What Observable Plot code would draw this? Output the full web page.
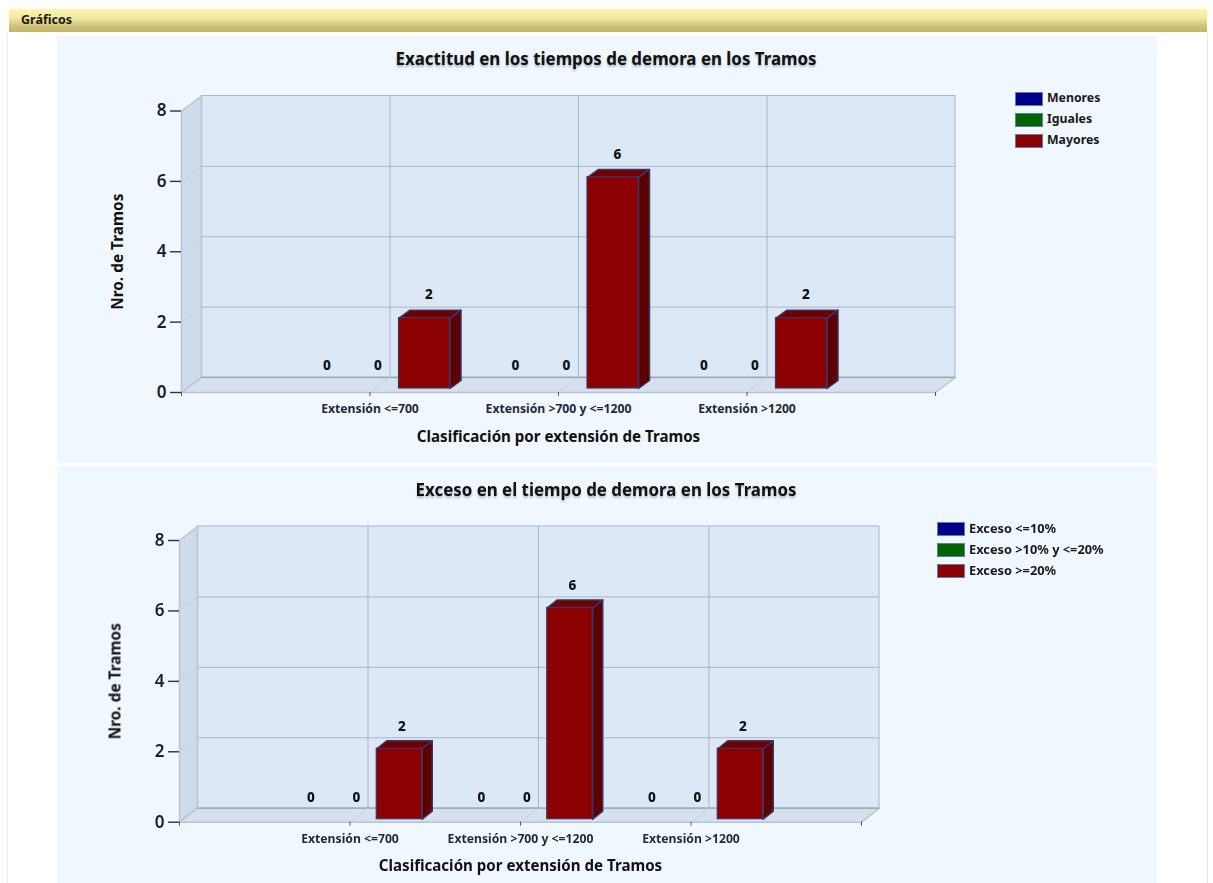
<!DOCTYPE html>
<html lang="es">
<head>
<meta charset="utf-8">
<script src="https://cdn.jsdelivr.net/npm/d3@7"></script>
<script src="https://cdn.jsdelivr.net/npm/@observablehq/plot@0.6"></script>
<style>
html,body{margin:0;padding:0;background:#fff;width:1213px;height:883px;overflow:hidden;font-family:"Noto Sans",sans-serif;color:#111}
#page{position:relative;width:1213px;height:883px;overflow:hidden;filter:blur(0.45px)}
.abs{position:absolute}
.bar{left:9px;top:9px;width:1198px;height:23px;background:linear-gradient(#fdf5ae 0%,#f5eba3 35%,#c9bd74 80%,#c2b56b 100%)}
.hd{left:21px;top:11px;font:700 12.5px "Noto Sans",sans-serif;color:#1a1a10}
.panel{background:#f0f7ff;left:57px;width:1100px}
.title{font:700 16.9px "Noto Sans",sans-serif;white-space:nowrap;transform:translateX(-50%);text-shadow:0 2px 2px rgba(70,70,70,.35);color:#111}
.sw{width:26px;height:12px;border:1px solid #5f7ea6}
.lg{font-family:"Noto Sans",sans-serif;font-weight:700;white-space:nowrap;color:#1a1a1a}
svg{position:absolute;left:0;background:transparent!important;overflow:visible}
</style>
</head>
<body>
<div id="page">
  <div class="abs" style="left:7px;top:33px;width:1px;height:850px;background:#ececec"></div>
  <div class="abs" style="left:1207px;top:33px;width:1px;height:850px;background:#e6e6e6"></div>
  <div class="abs bar"></div>
  <div class="abs hd">Gráficos</div>
  <div class="abs panel" style="top:36px;height:427px"></div>
  <div class="abs panel" style="top:466px;height:417px"></div>
</div>
<script>
const categories1 = ["Extensión <=700", "Extensión >700 y <=1200", "Extensión >1200"];
const categories2 = ["Extensión <=700", "Extensión >700 y <=1200", "Extensión >1200"];
const seriesNames1 = ["Menores", "Iguales", "Mayores"];
const seriesNames2 = ["Exceso <=10%", "Exceso >10% y <=20%", "Exceso >=20%"];
const menores = [0, 0, 0];
const iguales = [0, 0, 0];
const mayores = [2, 6, 2];
const excesoBajo = [0, 0, 0];
const excesoMedio = [0, 0, 0];
const excesoAlto = [2, 6, 2];
const seriesColors = ["#00008b", "#006400", "#8b0000"];
const yTicks = [0, 2, 4, 6, 8];

const FONT = '"Noto Sans",sans-serif';

function draw(cfg) {
  const page = document.getElementById("page");
  const bandPx = (cfg.right - cfg.left) / 4;
  const unitPx = (cfg.y0 - cfg.y8) / 8;
  const toX = (p) => p / bandPx;
  const toY = (p) => p / unitPx;
  const wx = toX(cfg.wallDx), wy = toY(cfg.wallDy);
  const bx = toX(cfg.barDepthX), by = toY(cfg.barDepthY);
  const bw = toX(cfg.barW);
  const rows = cfg.categories.flatMap((c, i) =>
    cfg.series.map((vals, s) => {
      const x1 = i + 1 + (s - 1.5) * bw;
      return {cat: c, name: cfg.names[s], value: vals[i], x1, x2: x1 + bw, color: seriesColors[s], key: i + "-" + s};
    })
  );
  const bars = rows.filter((d) => d.value > 0);
  const sidePts = bars.flatMap((d) => [[d.x2, 0], [d.x2 + bx, by], [d.x2 + bx, d.value + by], [d.x2, d.value], [d.x2, 0]].map(([x, y]) => ({x, y, k: d.key})));
  const topPts = bars.flatMap((d) => [[d.x1, d.value], [d.x1 + bx, d.value + by], [d.x2 + bx, d.value + by], [d.x2, d.value], [d.x1, d.value]].map(([x, y]) => ({x, y, k: d.key})));
  const leftWall = [[0, 0], [wx, wy], [wx, 8 + wy], [0, 8], [0, 0]].map(([x, y]) => ({x, y}));
  const floor = [[0, 0], [4, 0], [4 + wx, wy], [wx, wy], [0, 0]].map(([x, y]) => ({x, y}));
  const xTickVals = [0, 1, 2, 3, 4];
  const xFmt = (d) => (d >= 1 && d <= 3 ? cfg.categories[d - 1] : "");
  const grid = "#a9b5c6";
  const edge = "#b7c4d4";
  const faint = "#c6d2e0";
  const barStroke = "#3d3566";

  const svg = Plot.plot({
    width: 1213,
    height: cfg.h,
    marginLeft: cfg.left,
    marginRight: 1213 - cfg.right,
    marginTop: cfg.y8 - cfg.top,
    marginBottom: cfg.top + cfg.h - cfg.y0,
    style: {fontFamily: FONT, background: "transparent", overflow: "visible"},
    x: {type: "linear", domain: [0, 4]},
    y: {type: "linear", domain: [0, 8]},
    marks: [
      Plot.rect([{}], {x1: () => 0, x2: () => 4, y1: () => 0, y2: () => 8, dx: cfg.wallDx, dy: -cfg.wallDy, fill: "#dce8f6", stroke: grid, strokeWidth: 1}),
      Plot.line(leftWall, {x: "x", y: "y", fill: "#cfdbe9", stroke: edge}),
      Plot.line(floor, {x: "x", y: "y", fill: "#d6e1ed", stroke: edge}),
      Plot.ruleY(yTicks.slice(1, -1), {x1: 0, x2: 4, dx: cfg.wallDx, dy: -cfg.wallDy, stroke: grid, strokeWidth: 1}),
      Plot.ruleX(xTickVals.slice(1, -1), {y1: 0, y2: 8, dx: cfg.wallDx, dy: -cfg.wallDy, stroke: grid, strokeWidth: 1}),
      Plot.ruleY([0], {x1: 0, x2: 4, dx: cfg.wallDx, dy: -cfg.wallDy, stroke: "#98a4b6", strokeWidth: 1}),
      Plot.link(yTicks.slice(1, -1), {x1: () => 0, x2: () => wx, y1: (d) => d, y2: (d) => d + wy, stroke: faint}),
      Plot.link(xTickVals.slice(1, -1), {x1: (d) => d, x2: (d) => d + wx, y1: () => 0, y2: () => wy, stroke: faint}),
      Plot.line(sidePts, {x: "x", y: "y", z: "k", fill: "#5c0000", stroke: barStroke, dx: cfg.barDx, dy: cfg.barDy}),
      Plot.line(topPts, {x: "x", y: "y", z: "k", fill: "#6e0000", stroke: barStroke, dx: cfg.barDx, dy: cfg.barDy}),
      Plot.rect(bars, {x1: "x1", x2: "x2", y1: () => 0, y2: "value", fill: "color", stroke: barStroke, strokeWidth: 1.2, dx: cfg.barDx, dy: cfg.barDy}),
      Plot.text(rows, {x: (d) => (d.x1 + d.x2) / 2, y: "value", text: (d) => String(d.value), dx: cfg.labelDx, dy: cfg.labelDy, fontWeight: 800, fontSize: 13.5, fill: "#111"}),
      Plot.axisY({ticks: yTicks, tickSize: 11, tickPadding: 4, fontSize: 17, fontWeight: 600, label: null, stroke: "#333", fill: "#14202e", strokeWidth: 1.4}),
      Plot.axisY({ticks: [], tickSize: 0, label: "Nro. de Tramos", labelAnchor: "center", labelArrow: "none", labelOffset: cfg.yLabelOffset, fontSize: 15.4, fontWeight: 700, fill: "#111"}),
      Plot.axisX({ticks: xTickVals, tickSize: 4, tickPadding: 8, tickFormat: xFmt, fontSize: 12.2, fontWeight: 700, label: null, stroke: "#555", fill: "#1f2a38"}),
      Plot.axisX({ticks: [], tickSize: 0, label: "Clasificación por extensión de Tramos", labelAnchor: "center", labelArrow: "none", labelOffset: cfg.xLabelOffset, fontSize: 15.1, fontWeight: 700, fill: "#111"})
    ]
  });
  svg.style.top = cfg.top + "px";
  page.appendChild(svg);

  const t = document.createElement("div");
  t.className = "abs title";
  t.textContent = cfg.title;
  t.style.left = cfg.titleX + "px";
  t.style.top = cfg.titleY + "px";
  page.appendChild(t);

  cfg.names.forEach((n, i) => {
    const s = document.createElement("div");
    s.className = "abs sw";
    s.style.left = cfg.legendX + "px";
    s.style.top = cfg.legendY + i * cfg.legendStep + "px";
    s.style.background = seriesColors[i];
    page.appendChild(s);
    const l = document.createElement("div");
    l.className = "abs lg";
    l.textContent = n;
    l.style.fontSize = cfg.legendFont + "px";
    l.style.left = cfg.legendX + 32 + "px";
    l.style.top = cfg.legendY + i * cfg.legendStep - 3 + "px";
    page.appendChild(l);
  });
}

draw({
  top: 0, h: 463, left: 181, right: 935, y0: 392, y8: 110.5,
  wallDx: 20, wallDy: 15, barW: 51, barDepthX: 11, barDepthY: 8, barDx: 3.5, barDy: -4,
  labelDx: 8, labelDy: -27,
  categories: categories1, names: seriesNames1, series: [menores, iguales, mayores],
  yLabelOffset: 69, xLabelOffset: 49,
  title: "Exactitud en los tiempos de demora en los Tramos", titleX: 606, titleY: 47,
  legendX: 1015, legendY: 92, legendStep: 21, legendFont: 12.3
});
draw({
  top: 463, h: 420, left: 179, right: 861, y0: 821.7, y8: 540,
  wallDx: 18, wallDy: 14, barW: 45.5, barDepthX: 10, barDepthY: 8, barDx: 4, barDy: -3,
  labelDx: 6.5, labelDy: -25,
  categories: categories2, names: seriesNames2, series: [excesoBajo, excesoMedio, excesoAlto],
  yLabelOffset: 70, xLabelOffset: 49,
  title: "Exceso en el tiempo de demora en los Tramos", titleX: 606, titleY: 478,
  legendX: 937, legendY: 522, legendStep: 21, legendFont: 12.8
});
</script>
</body>
</html>
